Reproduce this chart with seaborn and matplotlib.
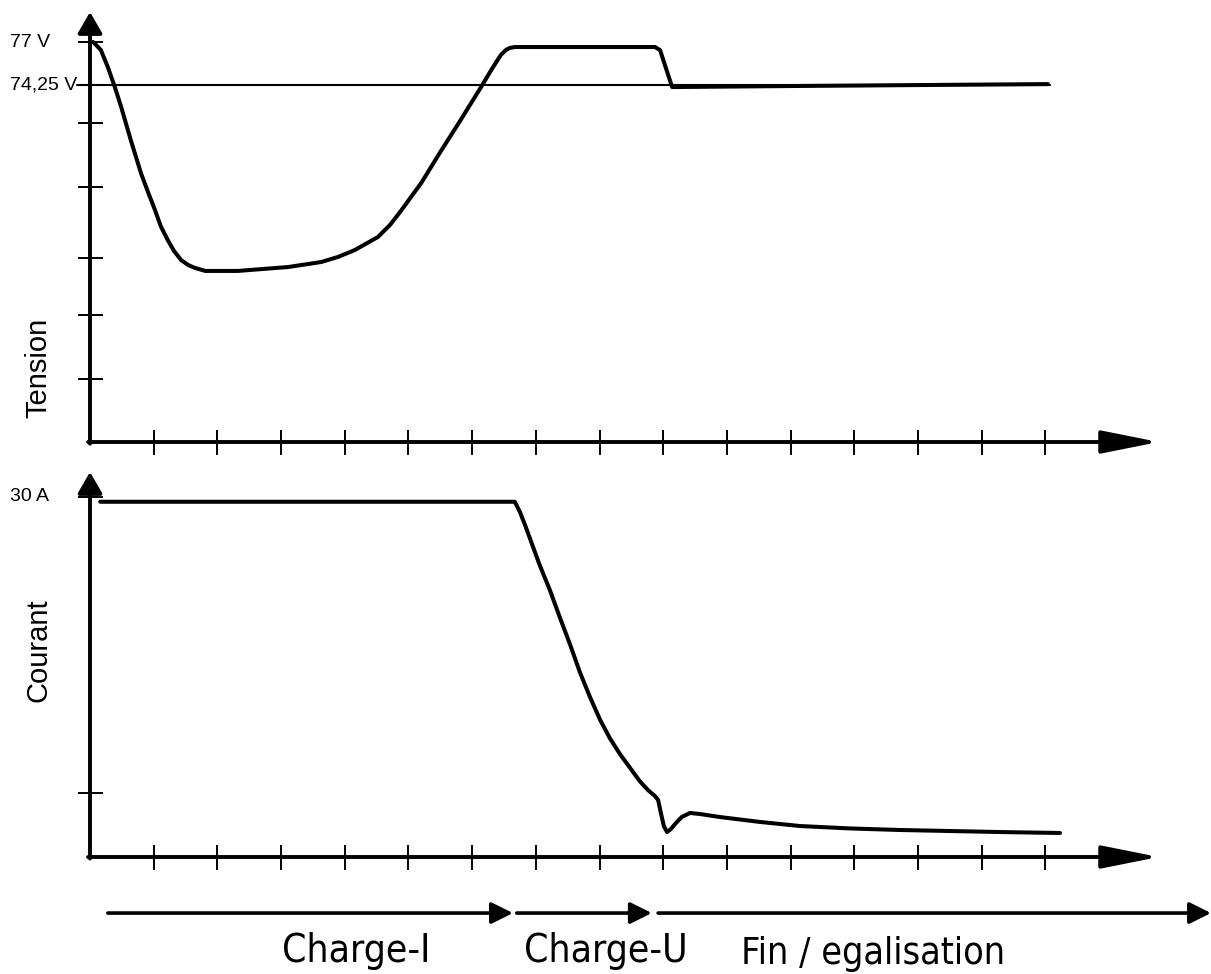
import numpy as np
import pandas as pd
import seaborn as sns
import matplotlib.pyplot as plt
from matplotlib import font_manager
from matplotlib.transforms import blended_transform_factory

# tension curve (time in tick units, volts)
t_tension = [0.05, 0.17, 0.28, 0.39, 0.49, 0.64, 0.80, 0.91, 1.02, 1.11, 1.22, 1.32,
             1.43, 1.54, 1.65, 1.81, 2.32, 3.11, 3.63, 3.89, 4.16, 4.52, 4.71, 4.88,
             5.04, 5.20, 5.49, 5.81, 6.14, 6.30, 6.45, 6.53, 6.59, 6.67, 6.75,
             8.87, 8.95, 9.14, 11.15, 15.04]
v_tension = [77.0, 76.49, 75.40, 74.12, 72.84, 70.73, 68.62, 67.41, 66.26, 65.23, 64.34, 63.63,
             63.06, 62.74, 62.55, 62.36, 62.36, 62.61, 62.93, 63.25, 63.70, 64.53, 65.30, 66.19,
             67.09, 67.98, 69.90, 71.95, 74.12, 75.21, 76.17, 76.49, 76.62, 76.68, 76.68,
             76.68, 76.49, 74.12, 74.19, 74.31]

# courant curve (time in tick units, amperes)
t_courant = [0.16, 6.67, 6.75, 6.83, 7.06, 7.22, 7.38, 7.54, 7.69, 7.85, 8.01, 8.16,
             8.32, 8.48, 8.63, 8.76, 8.87, 8.92, 8.96, 9.01, 9.06, 9.12, 9.20, 9.29,
             9.42, 9.58, 9.89, 10.52, 11.15, 11.93, 12.72, 14.29, 15.23]
i_courant = [29.6, 29.6, 28.75, 27.67, 24.33, 22.25, 19.92, 17.67, 15.42, 13.33, 11.42, 9.92,
             8.58, 7.42, 6.33, 5.58, 5.08, 4.75, 3.75, 2.58, 2.08, 2.33, 2.83, 3.33,
             3.67, 3.58, 3.33, 2.92, 2.58, 2.38, 2.25, 2.08, 2.0]

v_ref = 74.25
v_ref_span = [-0.2, 15.07]
v_ticks = [77.0, 74.25, 71.82, 67.73, 63.19, 59.54, 55.45]
v_ticklabels = {77.0: "77 V", 74.25: "74,25 V"}
i_ticks = [30.0, 5.33]
i_ticklabels = {30.0: "30 A"}
x_ticks = list(range(1, 16))

# charge phases (start, end in tick units)
phase_names = ["Charge-I", "Charge-U", "Fin / egalisation"]
phase_start = [0.28, 6.70, 8.92]
phase_end = [6.64, 8.82, 17.6]

W, H = 1211, 974
sns.set_style("white")
plt.rcParams["font.family"] = ["Liberation Sans", "DejaVu Sans"]
plt.rcParams["text.color"] = "black"
fig = plt.figure(figsize=(W / 100, H / 100), dpi=100)

# narrow face for the phase names if there is one
cond = font_manager.FontProperties(family="DejaVu Sans", stretch="condensed")
has_cond = "Condensed" in font_manager.findfont(cond, fallback_to_default=True)
if has_cond:
    label_size = [28, 28, 27]
    label_stretch = "condensed"
else:
    label_size = [25.5, 25.5, 24.5]
    label_stretch = "normal"

xmax = 16.8
ax1 = fig.add_axes([90 / W, (H - 442) / H, 1070 / W, 430 / H])
ax2 = fig.add_axes([90 / W, (H - 857) / H, 1070 / W, 385 / H])
ax1.set_xlim(0, xmax)
ax1.set_ylim(51.42, 78.92)
ax2.set_xlim(0, xmax)
ax2.set_ylim(0, 32.08)

df_v = pd.DataFrame({"t": t_tension, "v": v_tension})
df_i = pd.DataFrame({"t": t_courant, "i": i_courant})
sns.lineplot(data=df_v, x="t", y="v", ax=ax1, sort=False, estimator=None,
             color="black", lw=2.9, solid_joinstyle="round")
sns.lineplot(data=df_i, x="t", y="i", ax=ax2, sort=False, estimator=None,
             color="black", lw=2.9, solid_joinstyle="round")
ax1.plot(v_ref_span, [v_ref, v_ref], color="black", lw=1.5, clip_on=False)

for ax in (ax1, ax2):
    for s in ax.spines.values():
        s.set_visible(False)
    ax.set_xlabel("")
    ax.set_ylabel("")
    ax.set_xticks(x_ticks)
    ax.set_xticklabels([])
    ax.tick_params(axis="both", direction="inout", length=18, width=1.4,
                   color="black", left=True, bottom=True)
    y0, y1 = ax.get_ylim()
    # axes drawn as arrows
    ax.annotate("", xy=(xmax - 0.02, y0), xytext=(-0.03, y0), annotation_clip=False,
                arrowprops=dict(arrowstyle="-|>,head_length=35,head_width=7",
                                mutation_scale=1, lw=2.8, color="black",
                                shrinkA=0, shrinkB=0))
    ax.annotate("", xy=(0, y1), xytext=(0, y0 - (y1 - y0) * 0.004), annotation_clip=False,
                arrowprops=dict(arrowstyle="-|>,head_length=13,head_width=7.5",
                                mutation_scale=1, lw=2.8, color="black",
                                shrinkA=0, shrinkB=0))

ax1.set_yticks(v_ticks)
ax1.set_yticklabels([])
ax2.set_yticks(i_ticks)
ax2.set_yticklabels([])

for ax, labels in ((ax1, v_ticklabels), (ax2, i_ticklabels)):
    tr = blended_transform_factory(fig.transFigure, ax.transData)
    for val, txt in labels.items():
        ax.text(10 / W, val, txt, transform=tr, ha="left", va="center", fontsize=14)

fig.text(38 / W, 1 - 368 / H, "Tension", rotation=90, ha="center", va="center", fontsize=21)
fig.text(38 / W, 1 - 650 / H, "Courant", rotation=90, ha="center", va="center", fontsize=21)

# phase arrows under the current plot
y_arrow = -4.67
for a, b in zip(phase_start, phase_end):
    ax2.annotate("", xy=(b, y_arrow), xytext=(a, y_arrow), annotation_clip=False,
                 arrowprops=dict(arrowstyle="-|>,head_length=13,head_width=6.5",
                                 mutation_scale=1, lw=2.6, color="black",
                                 shrinkA=0, shrinkB=0))

label_x = [356, 606, 873]
label_y = [-8.75, -8.75, -8.92]
tr = blended_transform_factory(fig.transFigure, ax2.transData)
for name, x, y, fs in zip(phase_names, label_x, label_y, label_size):
    ax2.text(x / W, y, name, transform=tr, ha="center", va="baseline",
             fontsize=fs, family="DejaVu Sans", fontstretch=label_stretch, clip_on=False)

fig.savefig("out.png", dpi=100)
